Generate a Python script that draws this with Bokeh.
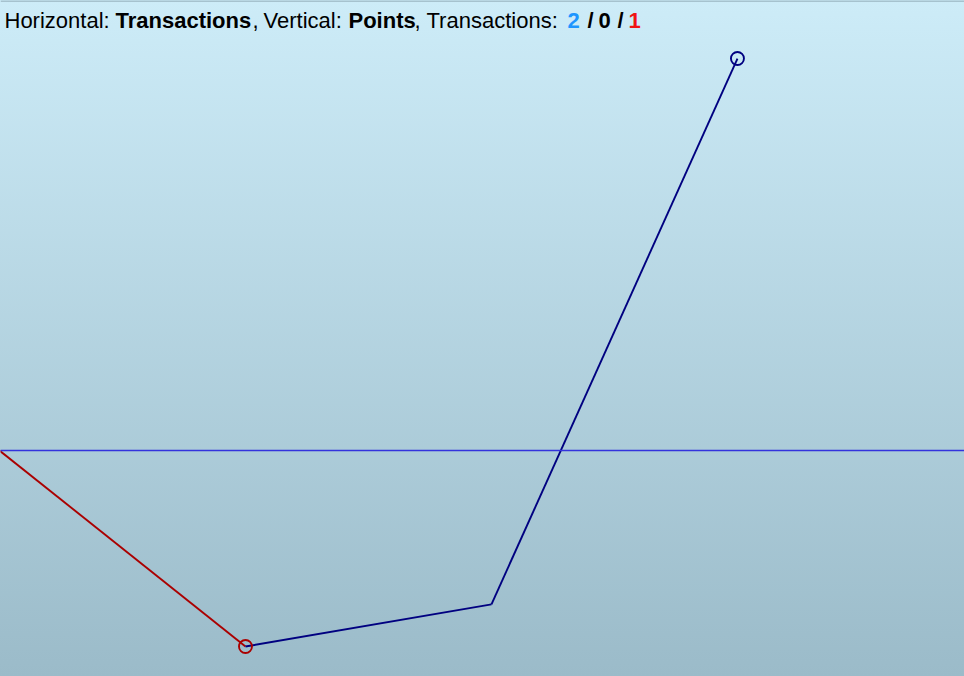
from bokeh.plotting import figure
from bokeh.models import Range1d, Span, Label
from bokeh.embed import file_html
from bokeh.resources import INLINE

# ---- data ----
trade_x = [0, 1, 2, 3]
points = [0.0, -20.0, -15.7, 40.0]
segment_colors = ["#aa0000", "#000080", "#000080"]
marker_idx = [1, 3]
marker_colors = ["#aa0000", "#000080"]
counts = ["2", "0", "1"]
count_colors = ["#1e96ff", "#000000", "#f01414"]

# title pieces: (text, weight, color, x position in px)
title_parts = [
    ("Horizontal:", "normal", "#000000", 4),
    ("Transactions", "bold", "#000000", 115),
    (",", "normal", "#000000", 252),
    ("Vertical:", "normal", "#000000", 263),
    ("Points", "bold", "#000000", 348),
    (",", "normal", "#000000", 414),
    ("Transactions:", "normal", "#000000", 426),
    (counts[0], "bold", count_colors[0], 567),
    ("/", "bold", "#000000", 587),
    (counts[1], "bold", count_colors[1], 598),
    ("/", "bold", "#000000", 617),
    (counts[2], "bold", count_colors[2], 628),
]

W, H = 964, 676
px_per_y = 9.8
x_range = Range1d(0.0041, 3.923)
y_range = Range1d(-23.06, 45.92)

p = figure(width=W, height=H, x_range=x_range, y_range=y_range,
           output_backend="svg", toolbar_location=None, min_border=0)
p.axis.visible = False
p.grid.visible = False
p.outline_line_color = None
p.background_fill_color = None
p.border_fill_color = None
p.styles = {"background": "linear-gradient(to bottom, #cdecf8, #9bbbc9)"}

# thin frame line at the top
p.add_layout(Span(location=y_range.end - 0.5 / px_per_y, dimension="width",
                  line_color="#8098a4", line_width=1.2))

p.add_layout(Span(location=0, dimension="width", line_color="#3333dd", line_width=1.6))

p.segment(x0=trade_x[:-1], y0=points[:-1], x1=trade_x[1:], y1=points[1:],
          line_color=segment_colors, line_width=1.9)

p.scatter(x=[trade_x[i] for i in marker_idx], y=[points[i] for i in marker_idx],
          marker="circle", size=13, fill_color=None,
          line_color=marker_colors, line_width=1.9)

title_y = y_range.end - 20.5 / px_per_y
for txt, weight, col, xp in title_parts:
    p.add_layout(Label(x=xp, y=title_y, x_units="screen", y_units="data",
                       text=txt, text_font="Liberation Sans", text_font_size="22px",
                       text_font_style=weight, text_color=col,
                       text_baseline="alphabetic", text_align="left"))

open("out.html", "w").write(file_html(p, INLINE))
